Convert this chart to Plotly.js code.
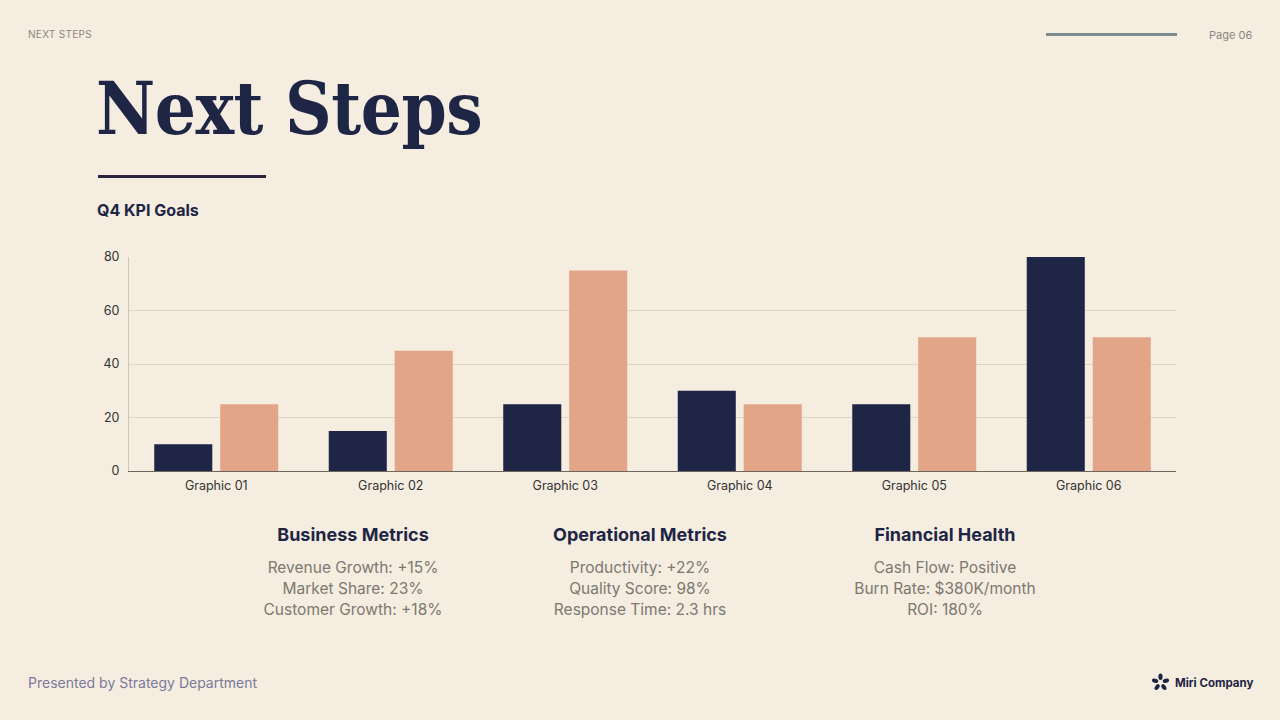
<!DOCTYPE html>
<html>
<head>
<meta charset="utf-8">
<script src="https://cdn.plot.ly/plotly-3.0.1.min.js"></script>
<style>
  html, body { margin: 0; padding: 0; }
  body { width: 1280px; height: 720px; background: #f4ede0; position: relative; overflow: hidden;
         font-family: Inter, "Open Sans", sans-serif; }
  #chart { position: absolute; left: 0; top: 0; width: 1280px; height: 720px; }
  .abs { position: absolute; white-space: nowrap; }
  .kicker { left: 28px; top: 28px; font-size: 10px; color: #8a8680; letter-spacing: 0.3px; }
  .page { left: 1209px; top: 28px; font-size: 11px; color: #8a8680; }
  .topline { left: 1046px; top: 33px; width: 131px; height: 3px; background: #7c8a8c; }
  .title { left: 96px; top: 66px; font-family: "DejaVu Serif Condensed", "DejaVu Serif", serif; font-size: 72px;
           color: #1f2544; font-weight: 700; letter-spacing: -0.5px; }
  .rule { left: 98px; top: 175px; width: 168px; height: 3px; background: #2b2440; }
  .sub { left: 97px; top: 200px; font-size: 16px; font-weight: 700; color: #1f2544; }
  .col { top: 524px; width: 300px; text-align: center; }
  .col h3 { margin: 0 0 12px 0; font-size: 18px; font-weight: 700; color: #1f2544; }
  .col div { font-size: 15.5px; color: #7d7870; line-height: 21px; }
  .foot { left: 28px; top: 674px; font-size: 14px; color: #7b7a9c; }
  .logo { left: 1151px; top: 673px; font-size: 11.5px; font-weight: 700; color: #1f2544; display: flex; align-items: center; gap: 5px; }
</style>
</head>
<body>
<div id="chart"></div>

<div class="abs kicker">NEXT STEPS</div>
<div class="abs topline"></div>
<div class="abs page">Page 06</div>
<div class="abs title">Next Steps</div>
<div class="abs rule"></div>
<div class="abs sub">Q4 KPI Goals</div>

<div class="abs col" style="left:203px">
  <h3>Business Metrics</h3>
  <div>Revenue Growth: +15%</div>
  <div>Market Share: 23%</div>
  <div>Customer Growth: +18%</div>
</div>
<div class="abs col" style="left:490px">
  <h3>Operational Metrics</h3>
  <div>Productivity: +22%</div>
  <div>Quality Score: 98%</div>
  <div>Response Time: 2.3 hrs</div>
</div>
<div class="abs col" style="left:795px">
  <h3>Financial Health</h3>
  <div>Cash Flow: Positive</div>
  <div>Burn Rate: $380K/month</div>
  <div>ROI: 180%</div>
</div>

<div class="abs foot">Presented by Strategy Department</div>
<div class="abs logo">
  <svg width="19" height="19" viewBox="-10 -10 20 20">
    <g fill="#1f2544">
      <ellipse cx="0" cy="-6" rx="2.2" ry="3.4"/>
      <ellipse cx="0" cy="-6" rx="2.2" ry="3.4" transform="rotate(72)"/>
      <ellipse cx="0" cy="-6" rx="2.2" ry="3.4" transform="rotate(144)"/>
      <ellipse cx="0" cy="-6" rx="2.2" ry="3.4" transform="rotate(216)"/>
      <ellipse cx="0" cy="-6" rx="2.2" ry="3.4" transform="rotate(288)"/>
    </g>
  </svg>
  <span>Miri Company</span>
</div>

<script>
  const categories = ['Graphic 01', 'Graphic 02', 'Graphic 03', 'Graphic 04', 'Graphic 05', 'Graphic 06'];
  const seriesA = [10, 15, 25, 30, 25, 80];
  const seriesB = [25, 45, 75, 25, 50, 50];
  const yTicks = [0, 20, 40, 60, 80];

  const data = [
    { x: categories, y: seriesA, type: 'bar', name: 'A', marker: { color: '#1f2544' }, hoverinfo: 'skip' },
    { x: categories, y: seriesB, type: 'bar', name: 'B', marker: { color: '#e2a587' }, hoverinfo: 'skip' }
  ];

  const layout = {
    width: 1280, height: 720,
    margin: { l: 129, r: 104, t: 257, b: 249 },
    paper_bgcolor: 'rgba(0,0,0,0)',
    plot_bgcolor: 'rgba(0,0,0,0)',
    font: { family: 'Inter, "Open Sans", sans-serif', color: '#333333', size: 12.5 },
    showlegend: false,
    barmode: 'group',
    bargap: 0.244,
    bargroupgap: 0.12,
    xaxis: {
      type: 'category',
      showgrid: false,
      showline: true, linecolor: '#6e665c', linewidth: 1,
      ticks: '', ticklen: 0, ticklabelstandoff: 3,
      tickfont: { size: 12.5, color: '#333333' }
    },
    yaxis: {
      range: [0, 80],
      tickvals: yTicks,
      showgrid: true, gridcolor: '#ddd5c6', gridwidth: 1,
      zeroline: false,
      showline: true, linecolor: '#cfc6b6', linewidth: 1,
      ticks: '', ticklen: 0, ticklabelstandoff: 6,
      tickfont: { size: 12.5, color: '#333333' }
    }
  };

  Plotly.newPlot('chart', data, layout, { displayModeBar: false, staticPlot: true });
</script>
</body>
</html>
